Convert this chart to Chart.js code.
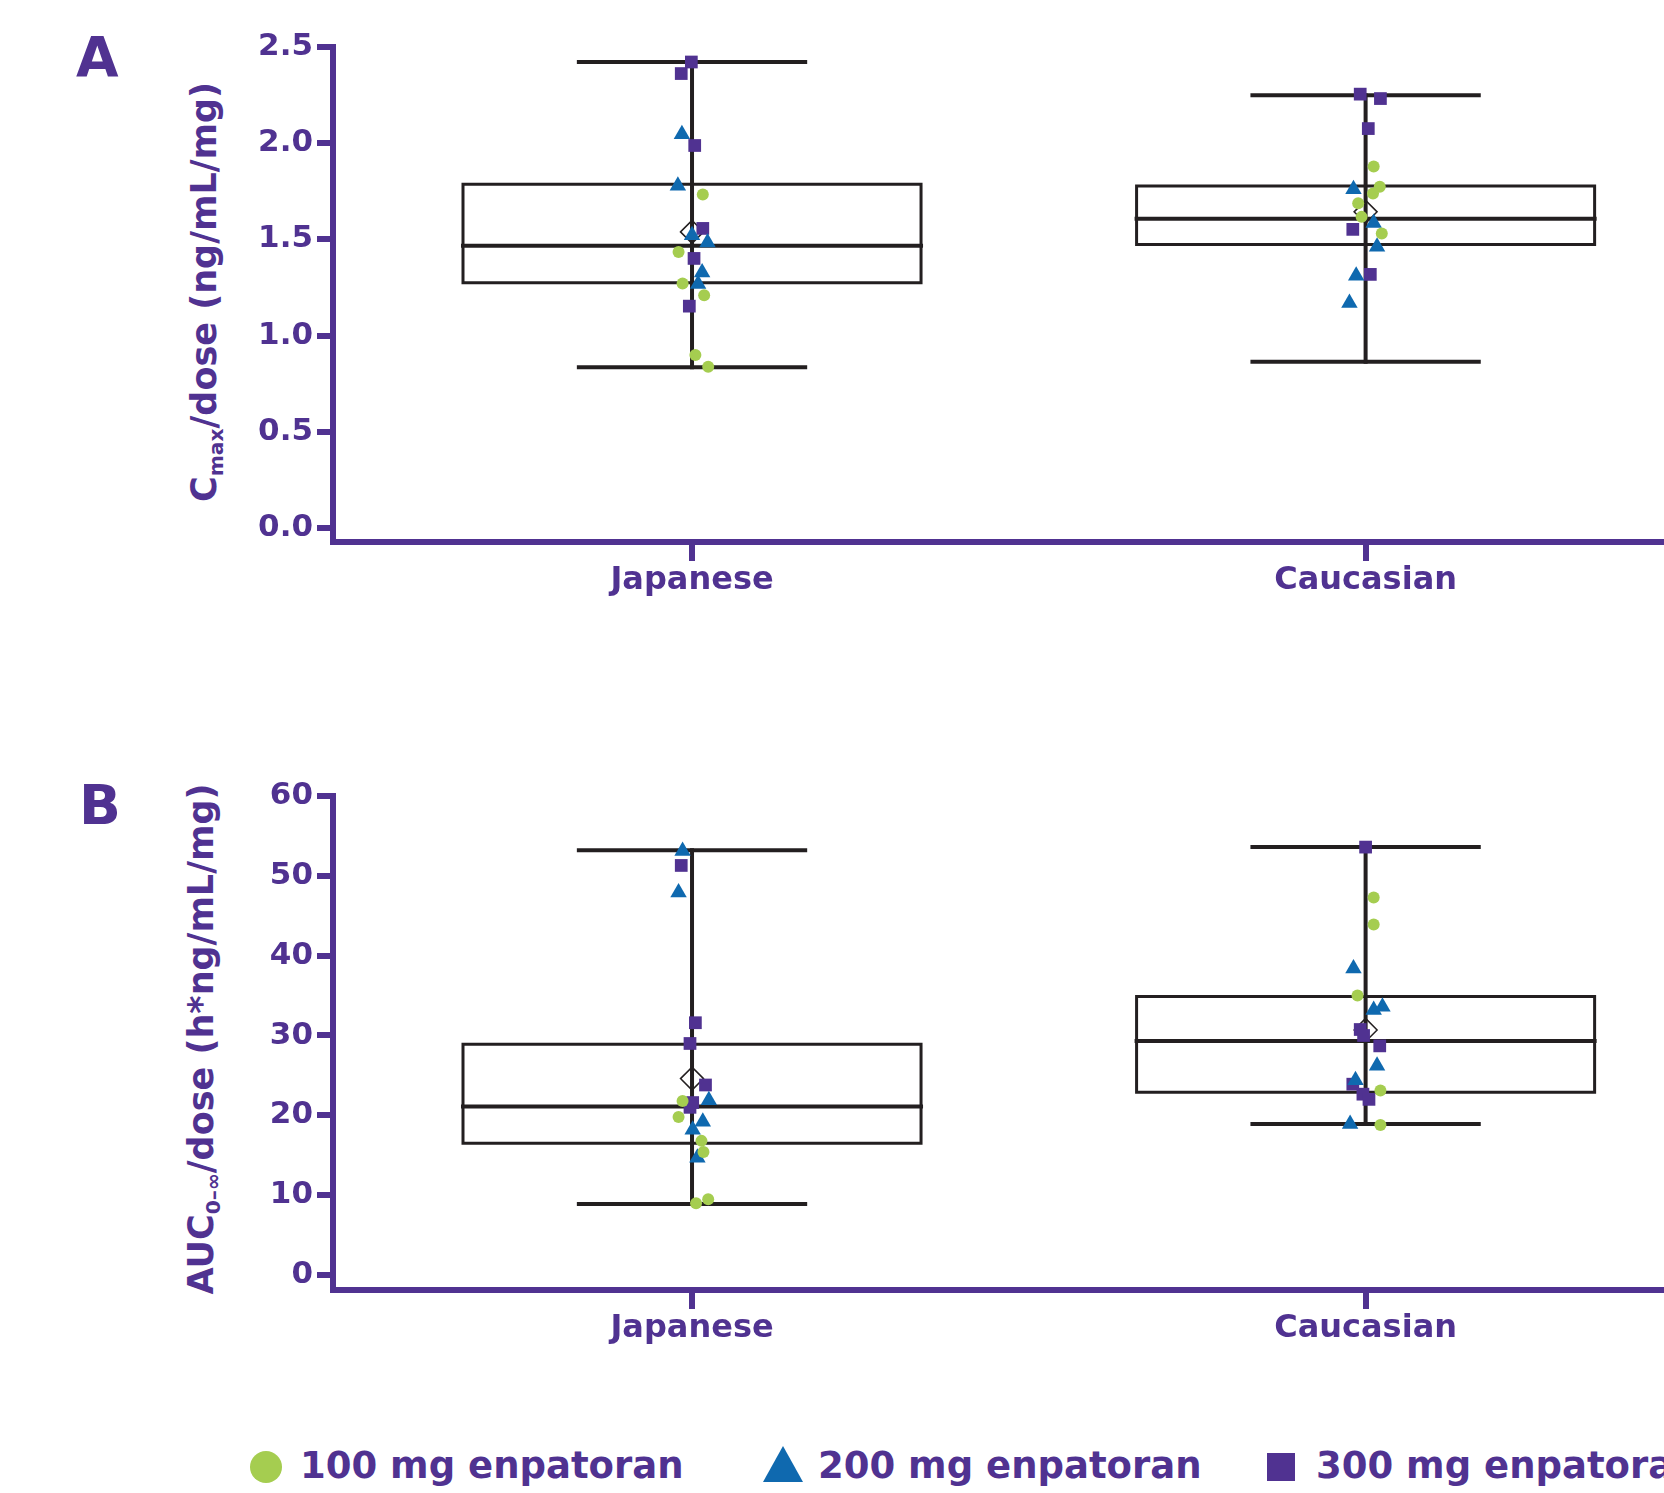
<!DOCTYPE html>
<html>
<head>
<meta charset="utf-8">
<script src="https://cdn.jsdelivr.net/npm/chart.js@4.4.1/dist/chart.umd.min.js"></script>
<style>
  html, body { margin: 0; padding: 0; background: #fff; }
  body {
    width: 1664px; height: 1493px; overflow: hidden; position: relative;
    font-family: "DejaVu Sans", Verdana, sans-serif; font-weight: bold; color: #503291;
  }
  canvas { position: absolute; left: 0; }
  .panel-label { position: absolute; font-size: 55px; line-height: 1; }
  .ytitle {
    position: absolute; font-size: 35px; line-height: 1; white-space: nowrap;
    transform: translate(-50%, -50%) rotate(-90deg);
  }
  .ytitle sub { font-size: 58%; vertical-align: -0.35em; line-height: 0; }
  .lg-text { position: absolute; top: 1447px; font-size: 37px; line-height: 1; white-space: nowrap; }
  .mk { position: absolute; }
</style>
</head>
<body>
<div class="panel-label" style="left:76px; top:30px">A</div>
<div class="panel-label" style="left:79px; top:778px">B</div>

<div class="ytitle" style="left:204px; top:292px">C<sub>max</sub>/dose (ng/mL/mg)</div>
<div class="ytitle" style="left:201px; top:1039px">AUC<sub>0&#8211;&#8734;</sub>/dose (h*ng/mL/mg)</div>

<canvas id="chartA" width="1664" height="620" style="top:0"></canvas>
<canvas id="chartB" width="1664" height="620" style="top:740px"></canvas>

<!-- legend -->
<div class="mk" style="left:250px; top:1451px; width:32px; height:32px; border-radius:50%; background:#A5CD50"></div>
<div class="lg-text" style="left:300px">100 mg enpatoran</div>
<div class="mk" style="left:763px; top:1446px; width:0; height:0; border-left:20.5px solid transparent; border-right:20.5px solid transparent; border-bottom:36px solid #0F69AF"></div>
<div class="lg-text" style="left:818px">200 mg enpatoran</div>
<div class="mk" style="left:1267px; top:1453px; width:28px; height:28px; background:#503291"></div>
<div class="lg-text" style="left:1316px">300 mg enpatoran</div>

<script>
const purple = "#503291";
const blue = "#0F69AF";
const green = "#A5CD50";
const ink = "#231f20";

const categories = ["Japanese", "Caucasian"];

// Panel A: Cmax/dose (ng/mL/mg), one entry per category
const cmaxTicks = [0, 0.5, 1, 1.5, 2, 2.5];
const cmaxMin = [0.835, 0.864];
const cmaxQ1 = [1.274, 1.474];
const cmaxMedian = [1.467, 1.607];
const cmaxQ3 = [1.787, 1.777];
const cmaxMax = [2.422, 2.249];
const cmaxMean = [1.539, 1.643];

const cmax100 = [[1.733, 1.435, 1.271, 1.209, 0.899, 0.838], [1.879, 1.773, 1.739, 1.688, 1.617, 1.531]];
const cmax200 = [[2.047, 1.779, 1.522, 1.484, 1.328, 1.268], [1.761, 1.585, 1.462, 1.311, 1.169]];
const cmax300 = [[2.422, 2.362, 1.988, 1.557, 1.401, 1.153], [2.255, 2.232, 2.076, 1.552, 1.318]];
// horizontal jitter of the dots (category units)
const cmax100Jit = [[0.016, -0.020, -0.014, 0.018, 0.005, 0.024], [0.012, 0.021, 0.011, -0.011, -0.006, 0.024]];
const cmax200Jit = [[-0.015, -0.021, 0.000, 0.023, 0.015, 0.009], [-0.018, 0.012, 0.017, -0.014, -0.024]];
const cmax300Jit = [[-0.001, -0.016, 0.004, 0.016, 0.003, -0.004], [-0.008, 0.022, 0.004, -0.019, 0.007]];

// Panel B: AUC0-inf/dose (h*ng/mL/mg)
const aucTicks = [0, 10, 20, 30, 40, 50, 60];
const aucMin = [8.9, 18.9];
const aucQ1 = [16.5, 22.9];
const aucMedian = [21.1, 29.3];
const aucQ3 = [28.9, 34.9];
const aucMax = [53.2, 53.6];
const aucMean = [24.6, 30.7];

const auc100 = [[21.8, 19.8, 16.8, 15.4, 9.0, 9.5], [47.3, 43.9, 35.0, 23.1, 18.8]];
const auc200 = [[53.1, 47.9, 21.9, 19.2, 18.2, 14.7], [38.4, 33.2, 33.6, 26.2, 24.4, 18.9]];
const auc300 = [[51.3, 31.6, 29.0, 23.8, 21.6, 21.0], [53.6, 30.75, 30.0, 28.7, 23.9, 22.65, 22.0]];
const auc100Jit = [[-0.014, -0.020, 0.014, 0.017, 0.006, 0.024], [0.012, 0.012, -0.012, 0.022, 0.022]];
const auc200Jit = [[-0.014, -0.020, 0.025, 0.016, 0.001, 0.008], [-0.018, 0.012, 0.025, 0.017, -0.015, -0.023]];
const auc300Jit = [[-0.016, 0.005, -0.003, 0.020, 0.001, -0.003], [0.000, -0.008, -0.003, 0.021, -0.019, -0.004, 0.005]];

const BOX_HALF = 0.34;
const CAP_HALF = 0.168;
const X_MIN = -0.533;
const X_MAX = 1.443;

function points(values, jitter) {
  return values.flatMap((arr, ci) => arr.map((v, i) => ({ x: ci + jitter[ci][i], y: v })));
}

function seg(data, width) {
  return {
    data: data, showLine: true, pointRadius: 0, borderColor: ink, borderWidth: width,
    borderCapStyle: "square", borderJoinStyle: "miter", order: 2
  };
}

function boxSets(mins, q1s, meds, q3s, maxs) {
  const sets = [];
  categories.forEach((c, i) => {
    sets.push(seg([{ x: i, y: mins[i] }, { x: i, y: maxs[i] }], 4));
    sets.push(seg([
      { x: i - BOX_HALF, y: q1s[i] }, { x: i + BOX_HALF, y: q1s[i] },
      { x: i + BOX_HALF, y: q3s[i] }, { x: i - BOX_HALF, y: q3s[i] },
      { x: i - BOX_HALF, y: q1s[i] }
    ], 3));
    sets.push(seg([{ x: i - BOX_HALF, y: meds[i] }, { x: i + BOX_HALF, y: meds[i] }], 4));
    sets.push(seg([{ x: i - CAP_HALF, y: mins[i] }, { x: i + CAP_HALF, y: mins[i] }], 4));
    sets.push(seg([{ x: i - CAP_HALF, y: maxs[i] }, { x: i + CAP_HALF, y: maxs[i] }], 4));
  });
  return sets;
}

function pointSets(p100, j100, p200, j200, p300, j300, means) {
  return [
    { data: points(p100, j100), pointStyle: "circle", pointRadius: 6, backgroundColor: green, borderWidth: 0, order: 0 },
    { data: points(p200, j200), pointStyle: "triangle", pointRadius: 9.5, backgroundColor: blue, borderWidth: 0, order: 0 },
    { data: points(p300, j300), pointStyle: "rect", pointRadius: 9, backgroundColor: purple, borderWidth: 0, order: 0 },
    { data: means.map((m, i) => ({ x: i, y: m })), pointStyle: "rectRot", pointRadius: 11.5,
      backgroundColor: "rgba(255,255,255,0)", borderColor: ink, borderWidth: 1.5, order: 1 }
  ];
}

function makeOptions(yMin, yMax, yTicks, fmt, padTop, xHeight) {
  const tickFont = { family: "'DejaVu Sans', Verdana, sans-serif", weight: "bold", size: 31 };
  return {
    responsive: false,
    animation: false,
    layout: { autoPadding: false, padding: { top: padTop, left: 0, right: 0, bottom: 0 } },
    plugins: { legend: { display: false }, tooltip: { enabled: false } },
    scales: {
      x: {
        type: "linear", min: X_MIN, max: X_MAX,
        afterBuildTicks: (s) => { s.ticks = categories.map((c, i) => ({ value: i })); },
        afterFit: (s) => { s.height = xHeight; },
        ticks: { callback: (v) => categories[v], color: purple, font: { ...tickFont, size: 32 }, padding: 0, autoSkip: false, maxRotation: 0 },
        grid: { drawOnChartArea: false, drawTicks: true, tickLength: 19, tickWidth: 6, tickColor: purple, lineWidth: 6, color: purple },
        border: { display: true, color: purple, width: 6 }
      },
      y: {
        type: "linear", min: yMin, max: yMax,
        afterBuildTicks: (s) => { s.ticks = yTicks.map((v) => ({ value: v })); },
        afterFit: (s) => { s.width = 333; },
        ticks: { callback: fmt, color: purple, font: tickFont, padding: 4 },
        grid: { drawOnChartArea: false, drawTicks: true, tickLength: 16, tickWidth: 6, tickColor: purple, lineWidth: 6, color: purple },
        border: { display: true, color: purple, width: 6 }
      }
    }
  };
}

new Chart(document.getElementById("chartA"), {
  type: "scatter",
  data: {
    datasets: pointSets(cmax100, cmax100Jit, cmax200, cmax200Jit, cmax300, cmax300Jit, cmaxMean)
      .concat(boxSets(cmaxMin, cmaxQ1, cmaxMedian, cmaxQ3, cmaxMax))
  },
  options: makeOptions(-0.073, 2.5, cmaxTicks, (v) => v.toFixed(1), 47, 78)
});

new Chart(document.getElementById("chartB"), {
  type: "scatter",
  data: {
    datasets: pointSets(auc100, auc100Jit, auc200, auc200Jit, auc300, auc300Jit, aucMean)
      .concat(boxSets(aucMin, aucQ1, aucMedian, aucQ3, aucMax))
  },
  options: makeOptions(-1.88, 60, aucTicks, (v) => String(v), 56, 70)
});
</script>
</body>
</html>
